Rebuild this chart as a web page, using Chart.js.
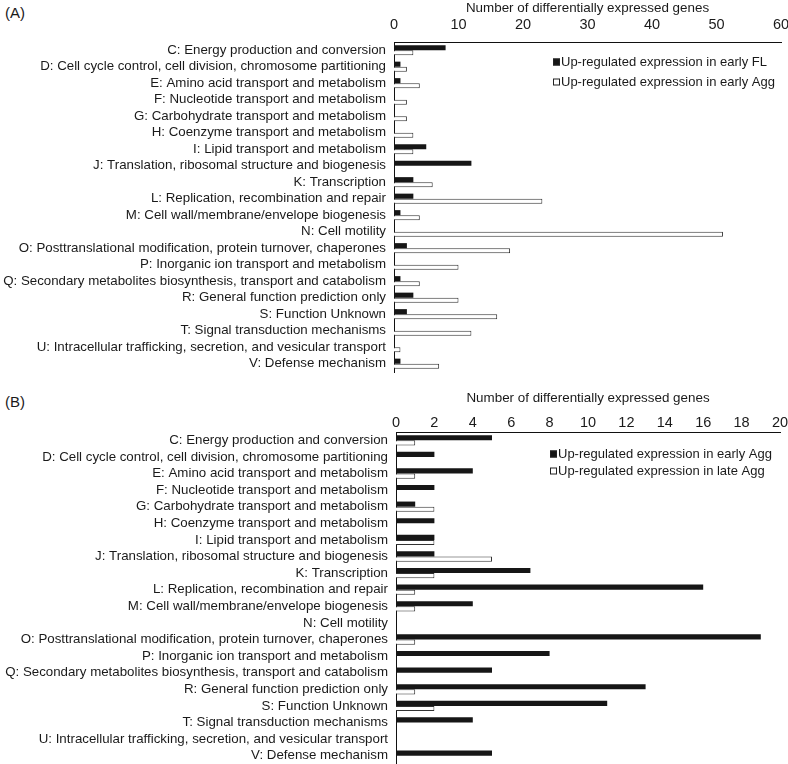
<!DOCTYPE html>
<html>
<head>
<meta charset="utf-8">
<script src="https://cdn.jsdelivr.net/npm/chart.js@4.4.1/dist/chart.umd.min.js"></script>
<style>
  body { margin: 0; background: #fff; }
  #wrap { position: relative; width: 788px; height: 764px; font-family: "Liberation Sans", Arial, sans-serif; color: #1a1a1a; }
  canvas { position: absolute; left: 0; }
  .panel-label { position: absolute; left: 5px; font-size: 15px; }
</style>
</head>
<body>
<div id="wrap">
  <div class="panel-label" style="top:4px">(A)</div>
  <canvas id="chart-a" width="788" height="388" style="top:0"></canvas>
  <div class="panel-label" style="top:393px">(B)</div>
  <canvas id="chart-b" width="788" height="376" style="top:388px"></canvas>
</div>
<script>
// --- DATA ---
const categories = [
    'C: Energy production and conversion',
    'D: Cell cycle control, cell division, chromosome partitioning',
    'E: Amino acid transport and metabolism',
    'F: Nucleotide transport and metabolism',
    'G: Carbohydrate transport and metabolism',
    'H: Coenzyme transport and metabolism',
    'I: Lipid transport and metabolism',
    'J: Translation, ribosomal structure and biogenesis',
    'K: Transcription',
    'L: Replication, recombination and repair',
    'M: Cell wall/membrane/envelope biogenesis',
    'N: Cell motility',
    'O: Posttranslational modification, protein turnover, chaperones',
    'P: Inorganic ion transport and metabolism',
    'Q: Secondary metabolites biosynthesis, transport and catabolism',
    'R: General function prediction only',
    'S: Function Unknown',
    'T: Signal transduction mechanisms',
    'U: Intracellular trafficking, secretion, and vesicular transport',
    'V: Defense mechanism'
];

// (A) early FL vs early Agg
const earlyFL   = [8, 1, 1, 0, 0, 0, 5, 12, 3, 3, 1, 0, 2, 0, 1, 3, 2, 0, 0, 1];
const earlyAggA = [3, 2, 4, 2, 2, 3, 3, 0, 6, 23, 4, 51, 18, 10, 4, 10, 16, 12, 1, 7];

// (B) early Agg vs late Agg
const earlyAggB = [5, 2, 4, 2, 1, 2, 2, 2, 7, 16, 4, 0, 19, 8, 5, 13, 11, 4, 0, 5];
const lateAgg   = [1, 0, 1, 0, 2, 0, 2, 5, 2, 1, 1, 0, 1, 0, 0, 1, 2, 0, 0, 0];

const ticksA = { max: 60, step: 10 };
const ticksB = { max: 20, step: 2 };
const axisTitle = 'Number of differentially expressed genes';

const FONT = '"Liberation Sans", Arial, sans-serif';
const INK = '#1a1a1a';

// --- LEGEND PLUGIN (drawn inside the plot area, top right) ---
const boxLegend = {
    id: 'boxLegend',
    afterDraw(chart, args, opts) {
        const { ctx, chartArea } = chart;
        ctx.save();
        ctx.font = '13px ' + FONT;
        ctx.textBaseline = 'middle';
        chart.data.datasets.forEach((ds, i) => {
            const x = chartArea.left + opts.x;
            const y = chartArea.top + opts.y + i * opts.gap;
            ctx.fillStyle = ds.backgroundColor;
            ctx.fillRect(x, y - 3.5, 7, 7);
            ctx.strokeStyle = '#222';
            ctx.lineWidth = 1;
            ctx.strokeRect(x + 0.5, y - 3, 6, 6);
            ctx.fillStyle = INK;
            ctx.fillText(ds.label, x + 8, y + 0.5);
        });
        ctx.restore();
    }
};

// --- CHART BUILDER ---
function makeChart(canvasId, blackData, whiteData, blackLabel, whiteLabel, ticks, layout) {
    return new Chart(document.getElementById(canvasId), {
        type: 'bar',
        data: {
            labels: categories,
            datasets: [
                { label: blackLabel, data: blackData, backgroundColor: '#161616', borderWidth: 0 },
                { label: whiteLabel, data: whiteData, backgroundColor: '#ffffff', borderColor: '#333', borderWidth: 1 }
            ]
        },
        options: {
            indexAxis: 'y',
            responsive: false,
            animation: false,
            layout: { padding: { top: 0, right: layout.right, bottom: layout.bottom, left: 0 } },
            datasets: { bar: { categoryPercentage: 0.62, barPercentage: 1 } },
            scales: {
                x: {
                    position: 'top',
                    min: 0,
                    max: ticks.max,
                    ticks: { stepSize: ticks.step, color: INK, font: { family: FONT, size: 14.5 }, padding: layout.tickPad, maxRotation: 0 },
                    grid: { display: false, drawTicks: false },
                    border: { display: true, color: '#111', width: 1 },
                    title: { display: true, text: axisTitle, color: INK, font: { family: FONT, size: 13.4 }, padding: { top: layout.titleTop, bottom: 0 } },
                    afterFit: s => { s.height = layout.axisH; s.paddingLeft = 0; s.paddingRight = 0; }
                },
                y: {
                    ticks: { color: INK, font: { family: FONT, size: 13.3 }, padding: 8, autoSkip: false },
                    grid: { display: false, drawTicks: false },
                    border: { display: true, color: '#111', width: 1 },
                    afterFit: s => { s.width = layout.left; s.paddingTop = 0; s.paddingBottom = 0; }
                }
            },
            plugins: {
                legend: { display: false },
                tooltip: { enabled: false },
                boxLegend: { x: layout.legX, y: layout.legY, gap: layout.legGap }
            }
        },
        plugins: [boxLegend]
    });
}

document.addEventListener('DOMContentLoaded', () => {
    makeChart('chart-a', earlyFL, earlyAggA,
        'Up-regulated expression in early FL', 'Up-regulated expression in early Agg',
        ticksA, { axisH: 42, right: 7, bottom: 16, left: 394, tickPad: 8, titleTop: 0, legX: 159, legY: 20, legGap: 20 });
    makeChart('chart-b', earlyAggB, lateAgg,
        'Up-regulated expression in early Agg', 'Up-regulated expression in late Agg',
        ticksB, { axisH: 44, right: 8, bottom: 0, left: 396, tickPad: 0, titleTop: 2, legX: 154, legY: 22, legGap: 17 });
});
</script>
</body>
</html>
